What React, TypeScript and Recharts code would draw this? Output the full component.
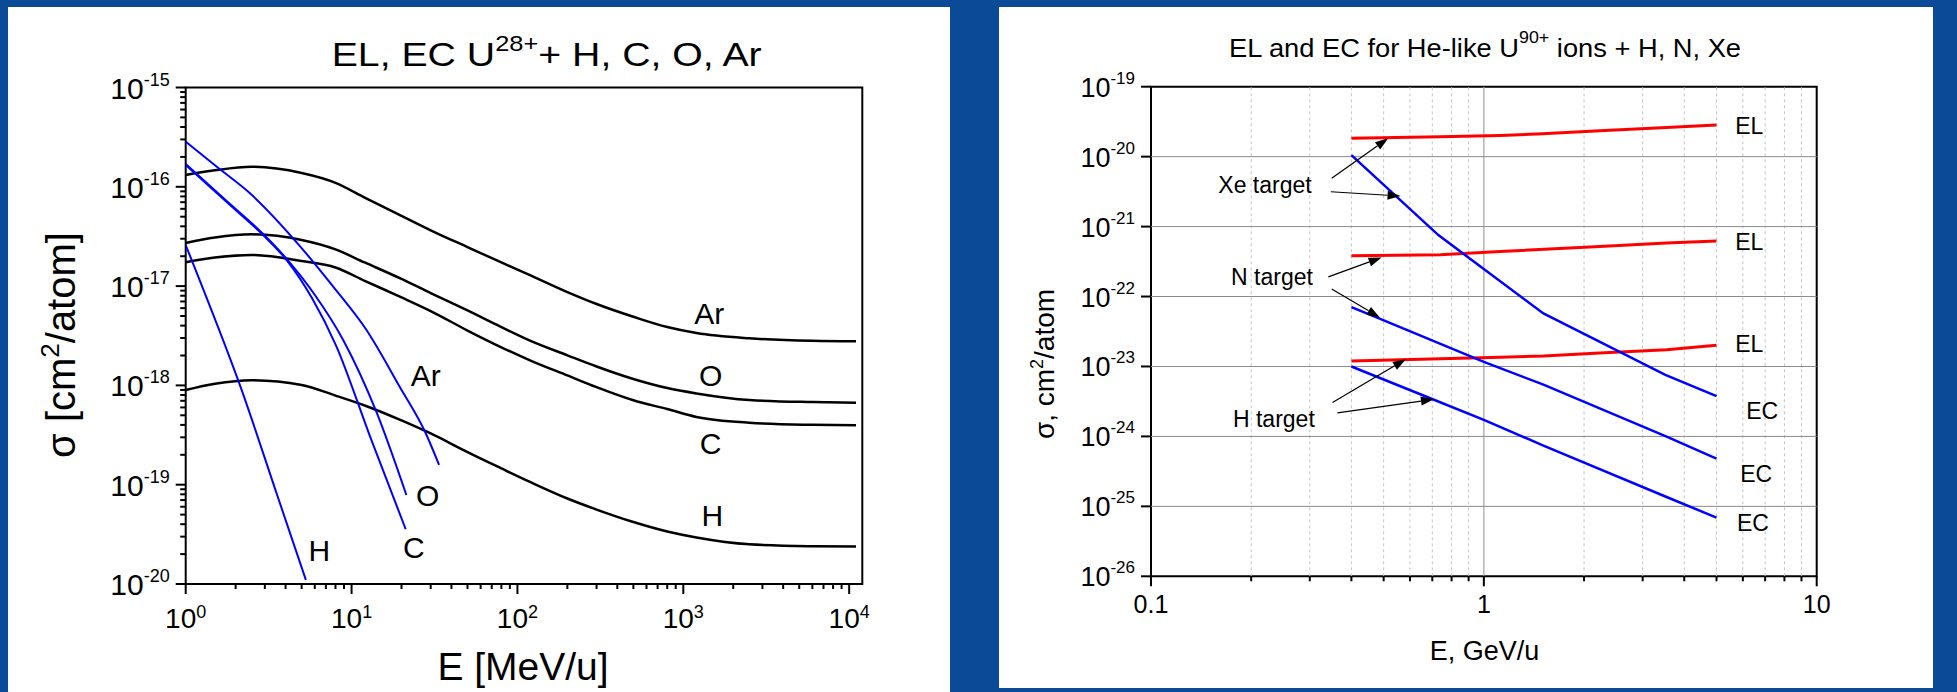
import React from 'react';
import { LineChart, Line, XAxis, YAxis, ReferenceArea, ReferenceLine, ReferenceDot } from 'recharts';

const FONT = '"Liberation Sans", Arial, Helvetica, sans-serif';

// ---------- left panel: EL / EC for U28+ on H, C, O, Ar (E in MeV/u) ----------
const elEnergy = [1, 1.5, 2.5, 5, 8, 12, 20, 30, 50, 80, 120, 200, 300, 500, 800, 1200, 2500, 6000, 11000];
const elAr = [1.315e-16, 1.466e-16, 1.59e-16, 1.377e-16, 1.097e-16, 7.8e-17, 5.1e-17, 3.65e-17, 2.47e-17, 1.73e-17, 1.28e-17, 8.7e-18, 6.6e-18, 4.91e-18, 3.87e-18, 3.37e-18, 2.98e-18, 2.81e-18, 2.78e-18];
const elO = [2.72e-17, 3.08e-17, 3.32e-17, 2.91e-17, 2.34e-17, 1.73e-17, 1.18e-17, 8.5e-18, 5.68e-18, 3.86e-18, 2.81e-18, 2.01e-18, 1.55e-18, 1.16e-18, 9.4e-19, 8.3e-19, 7.13e-19, 6.8e-19, 6.7e-19];
const elC = [1.74e-17, 1.94e-17, 2.06e-17, 1.79e-17, 1.54e-17, 1.13e-17, 7.7e-18, 5.61e-18, 3.57e-18, 2.42e-18, 1.78e-18, 1.26e-18, 9.6e-19, 7.08e-19, 5.78e-19, 4.81e-19, 4.21e-19, 4.01e-19, 3.96e-19];
const elH = [8.99e-19, 1.04e-18, 1.13e-18, 1.01e-18, 7.9e-19, 6.28e-19, 4.44e-19, 3.28e-19, 2.13e-19, 1.46e-19, 1.06e-19, 7.26e-20, 5.62e-20, 4.21e-20, 3.38e-20, 2.94e-20, 2.51e-20, 2.4e-20, 2.38e-20];

const ecArE = [1, 1.54, 2.44, 4.88, 7.75, 12.3, 19.5, 28, 33.7];
const ecAr = [2.85e-16, 1.59e-16, 8.6e-17, 2.53e-17, 9.86e-18, 3.61e-18, 9.7e-19, 3.3e-19, 1.58e-19];
const ecOE = [1, 1.85, 2.93, 4.06, 6.01, 8.9, 14.1, 21.4];
const ecO = [1.7e-16, 6.71e-17, 3.35e-17, 1.88e-17, 8.13e-18, 2.87e-18, 5.43e-19, 7.87e-20];
const ecCE = [1, 1.85, 2.93, 4.06, 5.77, 8.04, 12.9, 21.2];
const ecC = [1.66e-16, 6.56e-17, 3.27e-17, 1.83e-17, 7.59e-18, 2.55e-18, 3.09e-19, 3.56e-20];
const ecHE = [1, 1.85, 2.07, 3.53, 5.3];
const ecH = [2.59e-17, 1.87e-18, 1.13e-18, 8.2e-20, 1.1e-20];

const leftXTicks = [1, 10, 100, 1000, 10000];
const leftXExp = ['0', '1', '2', '3', '4'];
const leftYTicks = [1e-20, 1e-19, 1e-18, 1e-17, 1e-16, 1e-15];
const leftYExp = ['-20', '-19', '-18', '-17', '-16', '-15'];
const minorSteps = [2, 3, 4, 5, 6, 7, 8, 9];

// ---------- right panel: He-like U90+ on H, N, Xe (E in GeV/u) ----------
const xeElE = [0.4, 0.74, 1.12, 1.5, 2.23, 3.54, 5];
const xeEl = [1.83e-20, 1.92e-20, 2.01e-20, 2.12e-20, 2.34e-20, 2.62e-20, 2.83e-20];
const nElE = [0.4, 0.74, 1.12, 2.23, 3.54, 5];
const nEl = [3.82e-22, 3.96e-22, 4.41e-22, 5.19e-22, 5.82e-22, 6.2e-22];
const hElE = [0.4, 1.12, 1.51, 2.23, 3.54, 5];
const hEl = [1.2e-23, 1.36e-23, 1.41e-23, 1.56e-23, 1.73e-23, 2.01e-23];

const xeEcE = [0.4, 0.73, 1.51, 3.51, 5];
const xeEc = [1.05e-20, 7.55e-22, 5.73e-23, 7.6e-24, 3.76e-24];
const nEcE = [0.4, 0.48, 1, 1.51, 3.54, 5];
const nEc = [7.05e-23, 4.95e-23, 1.16e-23, 5.5e-24, 9.9e-25, 4.8e-25];
const hEcE = [0.4, 0.705, 1, 1.51, 3.54, 5];
const hEc = [1e-23, 3.37e-24, 1.72e-24, 7.4e-25, 1.36e-25, 6.9e-26];

const rightXTicks = [0.1, 1, 10];
const rightXLabels = ['0.1', '1', '10'];
const rightYTicks = [1e-26, 1e-25, 1e-24, 1e-23, 1e-22, 1e-21, 1e-20, 1e-19];
const rightYExp = ['-26', '-25', '-24', '-23', '-22', '-21', '-20', '-19'];

const pairs = (es: number[], ss: number[]) => es.map((e, i) => ({ e, s: ss[i] }));

const leftXAll = [...leftXTicks, ...leftXTicks.slice(0, 4).flatMap((d) => minorSteps.map((m) => d * m))];
const leftYAll = [...leftYTicks, ...leftYTicks.slice(0, 5).flatMap((d) => minorSteps.map((m) => d * m))];
const rightXMinor = [0.1, 1].flatMap((d) => minorSteps.map((m) => d * m));
const rightXAll = [...rightXTicks, ...rightXMinor];
const rightGridY = rightYTicks.slice(1, -1);

// curve tags (anchor in data units)
const leftTags = [
  { text: 'Ar', e: 1435, s: 5.32e-18 },
  { text: 'O', e: 1460, s: 1.27e-18 },
  { text: 'C', e: 1460, s: 2.61e-19 },
  { text: 'H', e: 1497, s: 4.88e-20 },
  { text: 'Ar', e: 28, s: 1.27e-18 },
  { text: 'O', e: 28.8, s: 7.87e-20 },
  { text: 'C', e: 23.7, s: 2.33e-20 },
  { text: 'H', e: 6.4, s: 2.15e-20 },
];
const rightTags = [
  { text: 'EL', e: 6.27, s: 2.74e-20 },
  { text: 'EL', e: 6.27, s: 6.0e-22 },
  { text: 'EL', e: 6.27, s: 2.12e-23 },
  { text: 'EC', e: 6.86, s: 2.29e-24 },
  { text: 'EC', e: 6.58, s: 2.88e-25 },
  { text: 'EC', e: 6.43, s: 5.73e-26 },
  { text: 'Xe target', e: 0.22, s: 3.93e-21 },
  { text: 'N target', e: 0.231, s: 1.91e-22 },
  { text: 'H target', e: 0.234, s: 1.76e-24 },
];
const targetArrows = [
  [{ x: 0.349, y: 4.9e-21 }, { x: 0.516, y: 1.83e-20 }],
  [{ x: 0.347, y: 3.15e-21 }, { x: 0.562, y: 2.73e-21 }],
  [{ x: 0.341, y: 1.91e-22 }, { x: 0.493, y: 3.62e-22 }],
  [{ x: 0.349, y: 1.28e-22 }, { x: 0.487, y: 5.02e-23 }],
  [{ x: 0.351, y: 3.05e-24 }, { x: 0.583, y: 1.27e-23 }],
  [{ x: 0.363, y: 2.17e-24 }, { x: 0.708, y: 3.4e-24 }],
];

const LeftXTick = (props: any) => {
  const { x, y, payload } = props;
  const i = leftXTicks.indexOf(payload.value);
  return (
    <g>
      <line x1={x} y1={y} x2={x} y2={y + (i >= 0 ? 10 : 5)} stroke="#000" strokeWidth={2} />
      {i >= 0 && (
        <text x={x} y={y + 44} textAnchor="middle" fontSize={28} fontFamily={FONT} fill="#000">
          10<tspan dy={-10} fontSize={18}>{leftXExp[i]}</tspan>
        </text>
      )}
    </g>
  );
};

const LeftYTick = (props: any) => {
  const { x, y, payload } = props;
  const i = leftYTicks.indexOf(payload.value);
  return (
    <g>
      <line x1={x} y1={y} x2={x - (i >= 0 ? 10 : 5.5)} y2={y} stroke="#000" strokeWidth={2} />
      {i >= 0 && (
        <text x={x - 16} y={y + 11} textAnchor="end" fontSize={30} fontFamily={FONT} fill="#000">
          10<tspan dy={-13} fontSize={18}>{leftYExp[i]}</tspan>
        </text>
      )}
    </g>
  );
};

const RightXTick = (props: any) => {
  const { x, y, payload } = props;
  const i = rightXTicks.indexOf(payload.value);
  return (
    <g>
      <line x1={x} y1={y} x2={x} y2={y + (i >= 0 ? 10 : 5)} stroke="#000" strokeWidth={2} />
      {i >= 0 && (
        <text x={x} y={y + 37} textAnchor="middle" fontSize={25} fontFamily={FONT} fill="#000">
          {rightXLabels[i]}
        </text>
      )}
    </g>
  );
};

const RightYTick = (props: any) => {
  const { x, y, payload } = props;
  const i = rightYTicks.indexOf(payload.value);
  return (
    <g>
      <line x1={x} y1={y} x2={x - 10} y2={y} stroke="#000" strokeWidth={2} />
      <text x={x - 16} y={y + 10} textAnchor="end" fontSize={27} fontFamily={FONT} fill="#000">
        10<tspan dy={-13} fontSize={17}>{rightYExp[i]}</tspan>
      </text>
    </g>
  );
};

const tag = (text: string, size: number) => (p: any) => (
  <text x={p.cx} y={p.cy} textAnchor="middle" dominantBaseline="central" fontSize={size} fontFamily={FONT} fill="#000">
    {text}
  </text>
);

const Arrow = (p: any) => {
  const { x1, y1, x2, y2 } = p;
  const a = Math.atan2(y2 - y1, x2 - x1);
  const len = 13;
  const half = 4.5;
  const bx = x2 - len * Math.cos(a);
  const by = y2 - len * Math.sin(a);
  const nx = -Math.sin(a) * half;
  const ny = Math.cos(a) * half;
  return (
    <g>
      <line x1={x1} y1={y1} x2={bx} y2={by} stroke="#000" strokeWidth={1.2} />
      <polygon points={`${x2},${y2} ${bx + nx},${by + ny} ${bx - nx},${by - ny}`} fill="#000" />
    </g>
  );
};

const LeftPanel = () => (
  <LineChart width={942} height={685} margin={{ top: 80.5, right: 87.7, bottom: 8, left: 77.7 }}>
    <XAxis dataKey="e" type="number" scale="log" domain={[1, 12000]} allowDataOverflow ticks={leftXAll} interval={0}
      tickSize={0} tickMargin={0} axisLine={false} tickLine={false} tick={LeftXTick} height={100} />
    <YAxis type="number" scale="log" domain={[1e-20, 1e-15]} allowDataOverflow ticks={leftYAll} interval={0}
      tickSize={0} tickMargin={0} axisLine={false} tickLine={false} tick={LeftYTick} width={100} />
    <Line data={pairs(elEnergy, elAr)} dataKey="s" type="monotone" stroke="#000" strokeWidth={2.5} dot={false} isAnimationActive={false} />
    <Line data={pairs(elEnergy, elO)} dataKey="s" type="monotone" stroke="#000" strokeWidth={2.5} dot={false} isAnimationActive={false} />
    <Line data={pairs(elEnergy, elC)} dataKey="s" type="monotone" stroke="#000" strokeWidth={2.5} dot={false} isAnimationActive={false} />
    <Line data={pairs(elEnergy, elH)} dataKey="s" type="monotone" stroke="#000" strokeWidth={2.5} dot={false} isAnimationActive={false} />
    <Line data={pairs(ecArE, ecAr)} dataKey="s" type="monotone" stroke="#0000ff" strokeWidth={2} dot={false} isAnimationActive={false} />
    <Line data={pairs(ecOE, ecO)} dataKey="s" type="monotone" stroke="#0000ff" strokeWidth={2} dot={false} isAnimationActive={false} />
    <Line data={pairs(ecCE, ecC)} dataKey="s" type="monotone" stroke="#0000ff" strokeWidth={2} dot={false} isAnimationActive={false} />
    <Line data={pairs(ecHE, ecH)} dataKey="s" type="monotone" stroke="#0000ff" strokeWidth={2} dot={false} isAnimationActive={false} />
    <ReferenceArea x1={1} x2={12000} y1={1e-20} y2={1e-15} fill="none" stroke="#000" strokeWidth={2} />
    {leftTags.map((t, i) => (
      <ReferenceDot key={`lt-${i}`} x={t.e} y={t.s} r={0} shape={tag(t.text, 30)} />
    ))}
  </LineChart>
);

const RightPanel = () => (
  <LineChart width={934} height={681} margin={{ top: 79.7, right: 116.3, bottom: 11.7, left: 52 }}>
    <XAxis dataKey="e" type="number" scale="log" domain={[0.1, 10]} allowDataOverflow ticks={rightXAll} interval={0}
      tickSize={0} tickMargin={0} axisLine={false} tickLine={false} tick={RightXTick} height={100} />
    <YAxis type="number" scale="log" domain={[1e-26, 1e-19]} allowDataOverflow ticks={rightYTicks} interval={0}
      tickSize={0} tickMargin={0} axisLine={false} tickLine={false} tick={RightYTick} width={100} />
    {rightXMinor.map((v) => (
      <ReferenceLine key={`vx-${v}`} x={v} stroke="#c4c4c4" strokeWidth={1} strokeDasharray="3 3" />
    ))}
    <ReferenceLine x={1} stroke="#a0a0a0" strokeWidth={1.2} />
    {rightGridY.map((v) => (
      <ReferenceLine key={`gy-${v}`} y={v} stroke="#8a8a8a" strokeWidth={1} />
    ))}
    <Line data={pairs(xeElE, xeEl)} dataKey="s" type="linear" stroke="#ff0000" strokeWidth={3} dot={false} isAnimationActive={false} />
    <Line data={pairs(nElE, nEl)} dataKey="s" type="linear" stroke="#ff0000" strokeWidth={3} dot={false} isAnimationActive={false} />
    <Line data={pairs(hElE, hEl)} dataKey="s" type="linear" stroke="#ff0000" strokeWidth={3} dot={false} isAnimationActive={false} />
    <Line data={pairs(xeEcE, xeEc)} dataKey="s" type="linear" stroke="#0000ff" strokeWidth={2.5} dot={false} isAnimationActive={false} />
    <Line data={pairs(nEcE, nEc)} dataKey="s" type="linear" stroke="#0000ff" strokeWidth={2.5} dot={false} isAnimationActive={false} />
    <Line data={pairs(hEcE, hEc)} dataKey="s" type="linear" stroke="#0000ff" strokeWidth={2.5} dot={false} isAnimationActive={false} />
    <ReferenceArea x1={0.1} x2={10} y1={1e-26} y2={1e-19} fill="none" stroke="#000" strokeWidth={2} />
    {targetArrows.map((seg, i) => (
      <ReferenceLine key={`ar-${i}`} segment={seg} shape={Arrow} />
    ))}
    {rightTags.map((t, i) => (
      <ReferenceDot key={`rt-${i}`} x={t.e} y={t.s} r={0} shape={tag(t.text, 23)} />
    ))}
  </LineChart>
);

export default function App() {
  return (
    <div style={{ position: 'absolute', left: 0, top: 0, width: 1957, height: 692, background: '#0a4a97', fontFamily: FONT, overflow: 'hidden' }}>
      <div style={{ position: 'absolute', left: 8, top: 7, width: 942, height: 685, background: '#fff' }}>
        <LeftPanel />
      </div>
      <div style={{ position: 'absolute', left: 999, top: 7, width: 934, height: 681, background: '#fff' }}>
        <RightPanel />
      </div>
      <svg width={1957} height={692} style={{ position: 'absolute', left: 0, top: 0, pointerEvents: 'none' }} fontFamily={FONT} fill="#000">
        <text x={546.7} y={65.7} textAnchor="middle" fontSize={34} textLength={430} lengthAdjust="spacingAndGlyphs">
          EL, EC U<tspan dy={-15} fontSize={22}>28+</tspan><tspan dy={15}>{'+ H, C, O, Ar'}</tspan>
        </text>
        <text x={523} y={680} textAnchor="middle" fontSize={39}>E [MeV/u]</text>
        <text transform="translate(75,345) rotate(-90)" textAnchor="middle" fontSize={40}>
          σ [cm<tspan dy={-16} fontSize={26}>2</tspan><tspan dy={16}>/atom]</tspan>
        </text>
        <text x={1485} y={56.5} textAnchor="middle" fontSize={26} textLength={512} lengthAdjust="spacingAndGlyphs">
          EL and EC for He-like U<tspan dy={-14} fontSize={17}>90+</tspan><tspan dy={14}>{' ions + H, N, Xe'}</tspan>
        </text>
        <text x={1484.6} y={660} textAnchor="middle" fontSize={27}>E, GeV/u</text>
        <text transform="translate(1054,364) rotate(-90)" textAnchor="middle" fontSize={28}>
          σ, cm<tspan dy={-11} fontSize={18}>2</tspan><tspan dy={11}>/atom</tspan>
        </text>
      </svg>
    </div>
  );
}
